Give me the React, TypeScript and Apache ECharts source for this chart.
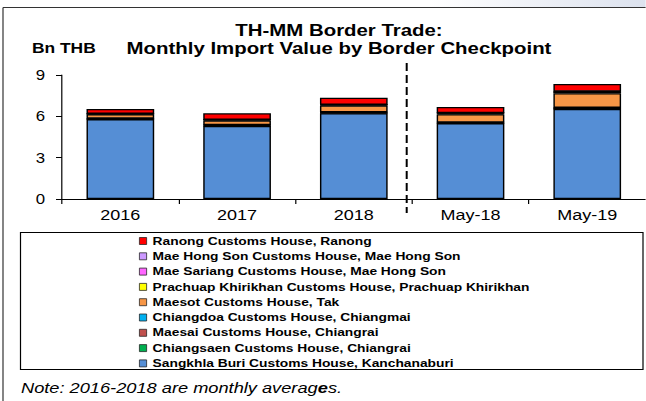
import React, { useEffect, useRef } from "react";
import * as echarts from "echarts";

// ---- data ----
const categories = ["2016", "2017", "2018", "May-18", "May-19"];
const sangkhlaBuri = [5.78, 5.3, 6.22, 5.49, 6.53];
const chiangsaen = [0.01, 0.01, 0.01, 0.01, 0.01];
const maesai = [0.05, 0.06, 0.06, 0.06, 0.09];
const chiangdoa = [0.005, 0.005, 0.005, 0.005, 0.005];
const maesot = [0.3, 0.31, 0.48, 0.58, 1.04];
const prachuap = [0.04, 0.06, 0.06, 0.08, 0.1];
const maeSariang = [0.005, 0.005, 0.005, 0.005, 0.005];
const maeHongSon = [0.01, 0.01, 0.01, 0.02, 0.03];
const ranong = [0.33, 0.46, 0.5, 0.42, 0.53];
const yTicks = { min: 0, max: 9, interval: 3 };

const seriesNames = [
  "Sangkhla Buri Customs House, Kanchanaburi",
  "Chiangsaen Customs House, Chiangrai",
  "Maesai Customs House, Chiangrai",
  "Chiangdoa Customs House, Chiangmai",
  "Maesot Customs House, Tak",
  "Prachuap Khirikhan Customs House, Prachuap Khirikhan",
  "Mae Sariang Customs House, Mae Hong Son",
  "Mae Hong Son Customs House, Mae Hong Son",
  "Ranong Customs House, Ranong",
];
const seriesValues = [
  sangkhlaBuri,
  chiangsaen,
  maesai,
  chiangdoa,
  maesot,
  prachuap,
  maeSariang,
  maeHongSon,
  ranong,
];

// ---- styles ----
const colors = [
  "#558ED5",
  "#00B050",
  "#C0504D",
  "#00B0F0",
  "#F79646",
  "#FFFF00",
  "#FF66FF",
  "#CC99FF",
  "#FF0000",
];
const FONT = "'Liberation Sans', Arial, Helvetica, sans-serif";
const SX = 1.2; // horizontal stretch of the original picture
const W = 646;
const H = 401;
const u = (x: number) => x / SX;

export default function App() {
  const ref = useRef<HTMLDivElement>(null);

  useEffect(() => {
    if (!ref.current) return;
    const chart = echarts.init(ref.current, undefined, { renderer: "svg" });

    const series = seriesNames.map((name, i) => ({
      name,
      type: "bar",
      stack: "total",
      barWidth: "58%",
      data: seriesValues[i],
      itemStyle: { color: colors[i], borderColor: "#000", borderWidth: 1.2 },
      emphasis: { disabled: true },
    }));

    chart.setOption({
      animation: false,
      backgroundColor: "#fff",
      title: {
        text: "TH-MM Border Trade:\nMonthly Import Value by Border Checkpoint",
        left: u(339),
        textAlign: "center",
        top: 21,
        padding: 0,
        textStyle: {
          fontFamily: FONT,
          fontSize: 17,
          fontWeight: "bold",
          color: "#000",
          lineHeight: 18,
        },
      },
      grid: { left: u(62), top: 75, width: u(590), height: 124 },
      xAxis: {
        type: "category",
        data: categories,
        axisLine: { lineStyle: { color: "#000", width: 1 } },
        axisTick: { show: true, length: 5, lineStyle: { color: "#000" } },
        axisLabel: {
          fontFamily: FONT,
          fontSize: 15,
          color: "#000",
          margin: 8.5,
        },
      },
      yAxis: {
        type: "value",
        min: yTicks.min,
        max: yTicks.max,
        interval: yTicks.interval,
        splitLine: { show: false },
        axisLine: { show: true, lineStyle: { color: "#000", width: 1 } },
        axisTick: { show: true, length: 5, lineStyle: { color: "#000" } },
        axisLabel: {
          fontFamily: FONT,
          fontSize: 14,
          color: "#000",
          margin: 14,
        },
      },
      legend: {
        data: [...seriesNames].reverse(),
        orient: "vertical",
        left: u(139),
        top: 235,
        padding: 0,
        itemGap: 3.3,
        itemWidth: 6,
        itemHeight: 7,
        icon: "rect",
        selectedMode: false,
        itemStyle: { borderColor: "#222", borderWidth: 0.7 },
        textStyle: {
          fontFamily: FONT,
          fontSize: 11.5,
          fontWeight: "bold",
          color: "#000",
          lineHeight: 12,
        },
      },
      graphic: [
        {
          type: "rect",
          silent: true,
          shape: { x: u(430), y: 0, width: u(216), height: 7 },
          style: {
            fill: new echarts.graphic.LinearGradient(0, 0, 1, 0, [
              { offset: 0, color: "rgba(222,227,238,0)" },
              { offset: 1, color: "#DCE2EE" },
            ]),
          },
        },
        {
          type: "line",
          silent: true,
          shape: { x1: u(3), y1: 7.5, x2: u(W), y2: 7.5 },
          style: { stroke: "#333", lineWidth: 1 },
        },
        {
          type: "line",
          silent: true,
          shape: { x1: u(3), y1: 7.5, x2: u(3), y2: H },
          style: { stroke: "#333", lineWidth: 1 },
        },
        {
          type: "text",
          silent: true,
          x: u(32),
          y: 48,
          style: {
            text: "Bn THB",
            font: `bold 14.5px ${FONT}`,
            fill: "#000",
            align: "left",
            verticalAlign: "middle",
          },
        },
        {
          type: "line",
          silent: true,
          shape: { x1: u(406.7), y1: 63, x2: u(406.7), y2: 213 },
          style: { stroke: "#000", lineWidth: 2 / SX, lineDash: [8, 4] },
        },
        {
          type: "rect",
          silent: true,
          shape: { x: u(20.5), y: 232.5, width: u(622.5), height: 137 },
          style: { fill: "none", stroke: "#000", lineWidth: 1 },
        },
        {
          type: "text",
          silent: true,
          x: u(21),
          y: 388,
          style: {
            text: "{a|Note: 2016-2018 are monthly averag}{b|e}{a|s.}",
            verticalAlign: "middle",
            align: "left",
            rich: {
              a: {
                fontFamily: FONT,
                fontSize: 15.2,
                fontStyle: "italic",
                fill: "#000",
                color: "#000",
              },
              b: {
                fontFamily: FONT,
                fontSize: 15.2,
                fontStyle: "italic",
                fontWeight: "bold",
                fill: "#000",
                color: "#000",
              },
            },
          },
        },
      ],
      series,
    });

    return () => chart.dispose();
  }, []);

  return (
    <div
      style={{
        position: "absolute",
        left: 0,
        top: 0,
        width: W,
        height: H,
        overflow: "hidden",
        background: "#fff",
      }}
    >
      <div
        ref={ref}
        style={{
          width: u(W),
          height: H,
          transform: `scaleX(${SX})`,
          transformOrigin: "0 0",
        }}
      />
    </div>
  );
}
